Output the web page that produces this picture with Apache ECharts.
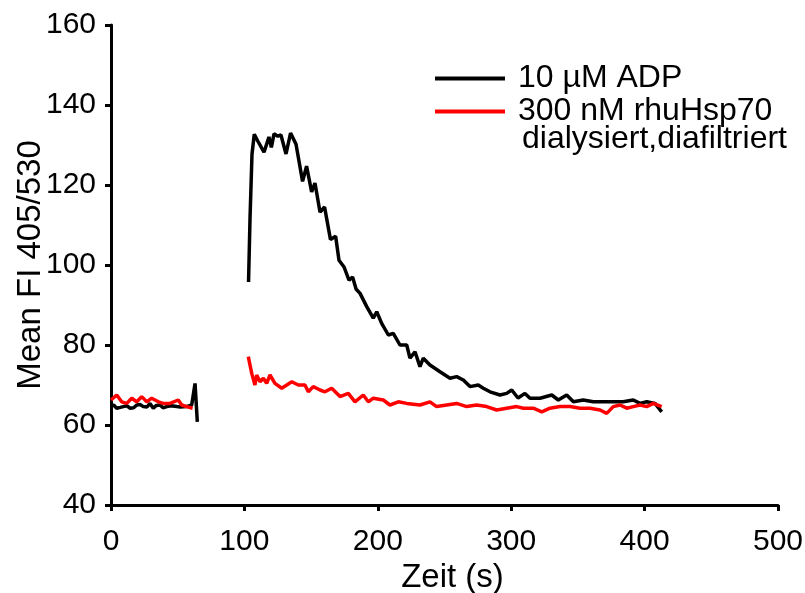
<!DOCTYPE html>
<html>
<head>
<meta charset="utf-8">
<script src="https://cdn.jsdelivr.net/npm/echarts@6/dist/echarts.min.js"></script>
<style>html,body{margin:0;padding:0;background:#fff;}#c{width:805px;height:593px;}</style>
</head>
<body>
<div id="c"></div>
<script>
// Black series: 10 µM ADP (null = gap in the recording)
var adpTime = [0, 2, 4.3, 7, 9.2, 12, 14.2, 17, 19.3, 22, 24.2, 27, 29.2, 31.7, 34, 36.7, 39, 41.8, 45, 49.3, 52, 56.7, 58, 60.5, 63, 64.7,
  85,
  103.1, 104.2, 105.7, 107.4, 110, 114.7, 118.4, 120.2, 122.2, 125, 127.4, 131.2, 134.6, 138.7, 143.6, 146.6, 150.4, 152.9, 156.7, 160.1, 164.5, 168.4, 170.9, 174.7, 178.4, 181.1, 183.7, 186.7, 191.7, 196.6, 199.2, 202.9, 207.9, 211.6, 216.6, 221.7, 224.1, 227.9, 231.6, 234.1, 239.1, 246.6, 254.1, 259.1, 264.1, 269.1, 275.3, 279.1, 284.1, 291.6, 296.6, 300.4, 305.1, 310.3, 314.1, 321.6, 330.4, 335.3, 341.6, 346.6, 354.0, 361.5, 369.0, 376.5, 384.0, 391.5, 396.6, 401.6, 407.8, 412.8];
var adpValue = [64.6, 65, 64.2, 64.4, 64.6, 64.8, 64.2, 64.3, 65, 65.1, 64.6, 64.5, 65.4, 64.2, 64.9, 65, 64.3, 64.6, 64.8, 64.6, 64.5, 64.6, 64.8, 65, 70.4, 60.8,
  null,
  95.75, 111.5, 127.75, 132.7, 131, 128.2, 132, 129.4, 132.8, 132.2, 132.5, 127.75, 133, 130.2, 120.9, 124.7, 118.3, 120.5, 113.2, 114.5, 106.4, 107.2, 101.2, 99.5, 96.2, 97, 94, 92.9, 89.6, 86.7, 88.3, 85.4, 82.5, 82.9, 80, 80, 76.7, 78.3, 74.6, 76.7, 75, 73.3, 71.7, 72.1, 71.25, 69.6, 70, 69.2, 68.3, 67.5, 67.9, 68.75, 66.75, 67.9, 66.7, 66.7, 67.5, 66.25, 67.5, 65.8, 66.25, 65.8, 65.8, 65.8, 65.8, 66.25, 65.4, 65.8, 65.4, 63.3];

// Red series: 300 nM rhuHsp70 dialysiert,diafiltriert
var hspTime = [0, 4.3, 8.0, 11.8, 15.5, 19.3, 23.0, 26.8, 30.5, 35.5, 39.2, 44.2, 50.4, 53.0, 56.7, 61.2,
  85,
  102.9, 105.5, 107.9, 109.2, 111.7, 114.2, 116.7, 119.2, 122.9, 128.0, 135.5, 140.4, 145.4, 147.9, 151.6, 156.7, 160.4, 165.4, 171.7, 177.9, 182.9, 189.1, 192.9, 196.6, 204.1, 209.1, 215.4, 221.7, 231.6, 239.1, 244.1, 251.6, 259.1, 266.6, 274.1, 281.6, 289.1, 296.6, 304.1, 309.1, 316.6, 322.9, 329.1, 336.6, 344.1, 351.6, 359.1, 366.6, 371.6, 376.5, 381.6, 386.6, 391.5, 396.6, 401.6, 406.5, 412.8];
var hspValue = [66.25, 67.5, 65.8, 65.4, 66.7, 65.8, 67.1, 65.8, 66.7, 65.8, 65.4, 65.4, 66.25, 65, 64.6, 64.2,
  null,
  77.1, 72.9, 70, 72.5, 70.8, 71.7, 70.4, 72.5, 70.4, 69.2, 70.8, 70, 70, 68.3, 69.6, 68.75, 68.3, 69.2, 67.1, 67.9, 65.8, 67.5, 65.8, 66.7, 66.25, 65, 65.8, 65.4, 65, 65.8, 64.6, 65, 65.4, 64.6, 65, 64.6, 63.75, 64.2, 64.6, 64.2, 64.2, 63.3, 64.2, 64.6, 64.6, 64.2, 64.2, 63.75, 62.9, 64.6, 65, 64.2, 64.6, 65, 64.6, 65.4, 64.6];

var xTicks = [0, 100, 200, 300, 400, 500];
var yTicks = [40, 60, 80, 100, 120, 140, 160];
var seriesNames = ['10 \u00b5M ADP', '300 nM rhuHsp70'];
var legendExtra = 'dialysiert,diafiltriert';

function pairs(t, v) {
  return t.map(function (x, i) { return [x, v[i] === null ? '-' : v[i]]; });
}

var FONT = '"Liberation Sans", Arial, Helvetica, sans-serif';
var chart = echarts.init(document.getElementById('c'), null, { renderer: 'canvas' });
var axisCommon = {
  axisLine: { show: true, lineStyle: { color: '#000', width: 3 } },
  axisTick: { show: true, inside: false, length: 6, lineStyle: { color: '#000', width: 3 } },
  splitLine: { show: false },
  axisLabel: { color: '#000', fontSize: 30, fontFamily: FONT },
  nameTextStyle: { color: '#000', fontSize: 33, fontFamily: FONT }
};
chart.setOption({
  animation: false,
  backgroundColor: '#fff',
  grid: { left: 111, right: 27, top: 25, bottom: 88, containLabel: false, outerBoundsMode: 'none' },
  xAxis: Object.assign({}, axisCommon, {
    type: 'value', min: xTicks[0], max: xTicks[xTicks.length - 1], interval: 100,
    name: 'Zeit (s)', nameLocation: 'middle', nameGap: 56,
    nameTextStyle: Object.assign({}, axisCommon.nameTextStyle, { padding: [0, 0, 0, 16] }),
    axisLabel: Object.assign({}, axisCommon.axisLabel, { margin: 22 })
  }),
  yAxis: Object.assign({}, axisCommon, {
    type: 'value', min: yTicks[0], max: yTicks[yTicks.length - 1], interval: 20,
    name: 'Mean FI 405/530', nameLocation: 'middle', nameGap: 64, nameRotate: 90,
    nameMoveOverlap: false,
    axisLabel: Object.assign({}, axisCommon.axisLabel, { margin: 15 })
  }),
  legend: {
    orient: 'vertical', left: 430, top: 57, itemWidth: 70, itemHeight: 4, itemGap: 0,
    icon: 'rect',
    textStyle: { color: '#000', fontSize: 32, lineHeight: 33, fontFamily: FONT, padding: [0, 0, 0, 8] },
    data: seriesNames
  },
  graphic: [{
    type: 'text', left: 522, top: 123,
    style: { text: legendExtra, fill: '#000', fontSize: 32, fontFamily: FONT }
  }],
  series: [
    { name: seriesNames[0], type: 'line', data: pairs(adpTime, adpValue), showSymbol: false, symbol: 'none',
      connectNulls: false, lineStyle: { color: '#000', width: 3.5 }, itemStyle: { color: '#000' } },
    { name: seriesNames[1], type: 'line', data: pairs(hspTime, hspValue), showSymbol: false, symbol: 'none',
      connectNulls: false, lineStyle: { color: '#ff0000', width: 3.5 }, itemStyle: { color: '#ff0000' } }
  ]
});
</script>
</body>
</html>
